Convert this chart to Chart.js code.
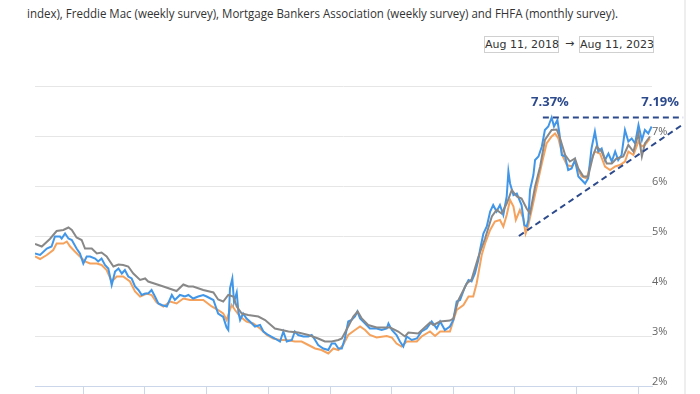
<!DOCTYPE html>
<html><head><meta charset="utf-8">
<script src="https://cdn.jsdelivr.net/npm/chart.js@4.4.0/dist/chart.umd.min.js"></script>
<style>
html,body{margin:0;padding:0;width:700px;height:394px;overflow:hidden;background:#fff;}
#note{position:absolute;left:27px;top:4px;font:13px "Open Sans",sans-serif;color:#333;white-space:nowrap;transform-origin:0 0;}
.box{position:absolute;top:36px;width:73px;height:15px;border:1px solid #d0d0d0;font:11px "DejaVu Sans",sans-serif;color:#333;line-height:15px;text-align:center;white-space:nowrap;}
#arrow{position:absolute;left:565px;top:36px;font:11px "DejaVu Sans",sans-serif;color:#333;line-height:15px;}
#wrap{position:absolute;left:0;top:0;width:700px;height:430px;}
#edge{position:absolute;left:684px;top:0;width:2px;height:394px;background:#eeeeee;}
</style></head>
<body>
<div id="note">index), Freddie Mac (weekly survey), Mortgage Bankers Association (weekly survey) and FHFA (monthly survey).</div>
<div class="box" style="left:484px">Aug 11, 2018</div>
<div id="arrow">→</div>
<div class="box" style="left:579px">Aug 11, 2023</div>
<div id="edge"></div>
<div id="wrap"><canvas id="c" width="700" height="430"></canvas></div>
<script>
const START = '2018-08-11', END = '2023-08-11';

const grayDates = ['2018-08-11','2018-08-31','2018-09-24','2018-10-14','2018-11-03','2018-11-18','2018-11-28','2018-12-12','2018-12-27','2019-01-06','2019-01-26','2019-02-10','2019-02-24','2019-03-11','2019-03-31','2019-04-15','2019-04-29','2019-05-14','2019-05-29','2019-06-18','2019-07-03','2019-07-12','2019-08-26','2019-10-04','2019-10-24','2019-11-08','2019-11-22','2019-12-22','2020-01-21','2020-02-04','2020-02-19','2020-03-05','2020-03-20','2020-03-30','2020-04-14','2020-05-03','2020-06-02','2020-06-22','2020-07-21','2020-08-10','2020-08-30','2020-09-28','2020-10-28','2020-11-26','2020-12-16','2021-01-05','2021-01-25','2021-02-04','2021-02-23','2021-03-10','2021-03-23','2021-04-04','2021-04-23','2021-05-18','2021-06-27','2021-07-21','2021-08-10','2021-08-20','2021-09-18','2021-10-23','2021-11-02','2021-11-22','2021-12-21','2021-12-31','2022-01-15','2022-02-09','2022-02-23','2022-03-15','2022-04-04','2022-04-24','2022-05-08','2022-05-23','2022-06-07','2022-06-22','2022-07-07','2022-07-21','2022-08-05','2022-08-15','2022-08-30','2022-09-14','2022-09-28','2022-10-18','2022-11-02','2022-11-12','2022-11-27','2022-12-11','2022-12-26','2023-01-05','2023-01-20','2023-02-03','2023-02-18','2023-02-28','2023-03-15','2023-03-30','2023-04-14','2023-04-28','2023-05-18','2023-06-02','2023-06-17','2023-07-02','2023-07-12','2023-07-21','2023-08-05'];
const grayVals = [4.84,4.79,4.94,5.10,5.12,5.17,5.12,4.97,4.92,4.75,4.75,4.65,4.67,4.59,4.39,4.43,4.42,4.39,4.25,4.12,4.15,4.09,3.99,3.90,4.03,3.99,3.99,3.92,3.87,3.73,3.69,3.82,3.79,3.59,3.45,3.42,3.39,3.32,3.15,3.12,3.09,3.07,3.02,2.95,2.89,2.89,2.92,2.95,3.19,3.39,3.49,3.35,3.22,3.17,3.17,3.09,2.99,3.07,3.05,3.27,3.22,3.29,3.31,3.35,3.72,4.05,4.13,4.58,4.95,5.39,5.52,5.45,5.65,5.92,5.79,5.75,5.55,5.45,5.99,6.39,6.92,7.12,7.13,6.95,6.62,6.49,6.55,6.35,6.19,6.19,6.62,6.79,6.69,6.45,6.45,6.55,6.59,6.82,6.69,7.05,6.59,6.85,6.99];

const blueDates = ['2018-08-11','2018-08-26','2018-09-15','2018-09-29','2018-10-09','2018-10-24','2018-10-29','2018-11-08','2018-11-18','2018-11-28','2018-12-12','2018-12-22','2019-01-01','2019-01-11','2019-01-21','2019-02-05','2019-02-14','2019-02-24','2019-03-06','2019-03-16','2019-03-26','2019-04-05','2019-04-15','2019-04-25','2019-05-04','2019-05-14','2019-05-24','2019-06-03','2019-06-13','2019-06-23','2019-07-03','2019-07-12','2019-07-22','2019-08-01','2019-08-11','2019-08-21','2019-09-05','2019-09-20','2019-09-29','2019-10-14','2019-10-29','2019-11-08','2019-11-22','2019-12-07','2019-12-22','2020-01-01','2020-01-21','2020-02-04','2020-02-19','2020-02-29','2020-03-05','2020-03-10','2020-03-17','2020-03-22','2020-03-30','2020-04-04','2020-04-09','2020-04-18','2020-04-28','2020-05-08','2020-05-23','2020-06-07','2020-06-17','2020-07-01','2020-07-21','2020-08-05','2020-08-15','2020-08-25','2020-09-09','2020-09-18','2020-09-28','2020-10-13','2020-10-28','2020-11-07','2020-11-17','2020-11-26','2020-12-11','2020-12-26','2021-01-05','2021-01-15','2021-01-25','2021-02-04','2021-02-13','2021-02-23','2021-03-05','2021-03-15','2021-03-22','2021-03-30','2021-04-14','2021-04-28','2021-05-18','2021-06-02','2021-06-17','2021-06-22','2021-07-02','2021-07-16','2021-07-26','2021-08-05','2021-08-15','2021-08-30','2021-09-14','2021-09-28','2021-10-13','2021-10-28','2021-11-12','2021-11-22','2021-12-06','2021-12-21','2021-12-31','2022-01-10','2022-01-20','2022-02-04','2022-02-14','2022-02-23','2022-03-05','2022-03-15','2022-03-20','2022-03-30','2022-04-09','2022-04-19','2022-04-28','2022-05-08','2022-05-18','2022-05-28','2022-06-07','2022-06-12','2022-06-17','2022-06-27','2022-07-07','2022-07-21','2022-07-29','2022-08-05','2022-08-10','2022-08-15','2022-08-25','2022-08-30','2022-09-09','2022-09-19','2022-09-28','2022-10-08','2022-10-18','2022-10-25','2022-11-04','2022-11-10','2022-11-17','2022-11-27','2022-12-06','2022-12-16','2022-12-26','2023-01-05','2023-01-15','2023-01-25','2023-02-03','2023-02-13','2023-02-23','2023-03-05','2023-03-15','2023-03-25','2023-04-04','2023-04-14','2023-04-24','2023-05-03','2023-05-13','2023-05-23','2023-06-02','2023-06-12','2023-06-22','2023-07-02','2023-07-12','2023-07-21','2023-07-31','2023-08-10'];
const blueVals = [4.65,4.62,4.75,4.79,4.99,4.99,4.95,5.05,4.95,4.92,4.75,4.65,4.45,4.59,4.59,4.55,4.49,4.55,4.42,4.35,4.02,4.29,4.35,4.25,4.32,4.19,4.15,3.99,3.92,3.82,3.85,3.85,3.92,3.79,3.65,3.62,3.59,3.82,3.72,3.82,3.79,3.82,3.75,3.79,3.82,3.79,3.72,3.45,3.38,3.17,3.12,3.95,4.15,3.68,3.87,3.48,3.32,3.45,3.35,3.29,3.19,3.22,3.09,3.02,2.95,2.89,3.09,2.89,2.92,3.09,3.02,2.99,2.99,3.02,2.92,2.82,2.75,2.72,2.85,2.85,2.75,2.75,2.95,3.29,3.32,3.39,3.49,3.35,3.25,3.15,3.15,3.12,3.15,3.25,3.12,3.02,2.89,2.79,2.99,2.92,2.95,3.09,3.15,3.29,3.15,3.29,3.12,3.19,3.32,3.69,3.72,3.99,4.12,4.09,4.25,4.52,4.72,5.05,5.19,5.49,5.62,5.49,5.62,5.42,5.79,6.29,6.05,5.82,5.85,5.62,5.22,5.19,5.32,5.92,6.22,6.52,6.59,6.79,7.12,7.19,7.37,7.19,7.32,7.05,6.62,6.59,6.32,6.35,6.52,6.19,6.12,6.05,6.15,6.75,7.09,6.69,6.75,6.52,6.65,6.49,6.69,6.52,6.62,7.12,6.89,6.95,6.85,7.22,6.92,7.12,7.05,7.19];

const orangeDates = ['2018-08-11','2018-08-26','2018-09-15','2018-10-04','2018-10-14','2018-11-03','2018-11-13','2018-11-23','2018-12-07','2018-12-22','2019-01-06','2019-01-21','2019-02-10','2019-02-24','2019-03-11','2019-03-26','2019-04-10','2019-04-29','2019-05-19','2019-06-03','2019-06-18','2019-07-08','2019-07-22','2019-08-06','2019-08-26','2019-09-15','2019-10-04','2019-10-24','2019-11-13','2019-12-03','2019-12-22','2020-01-16','2020-02-04','2020-02-19','2020-02-29','2020-03-15','2020-03-25','2020-04-09','2020-04-28','2020-05-18','2020-06-07','2020-06-27','2020-07-16','2020-08-05','2020-08-25','2020-09-18','2020-10-08','2020-10-28','2020-11-17','2020-12-06','2020-12-26','2021-01-10','2021-01-25','2021-02-08','2021-02-23','2021-03-15','2021-03-30','2021-04-14','2021-04-28','2021-05-18','2021-06-17','2021-07-02','2021-07-16','2021-07-31','2021-08-15','2021-09-14','2021-09-28','2021-10-23','2021-11-07','2021-11-22','2021-12-21','2022-01-10','2022-01-30','2022-02-14','2022-02-28','2022-03-10','2022-03-25','2022-04-04','2022-04-19','2022-05-03','2022-05-18','2022-05-28','2022-06-07','2022-06-17','2022-06-27','2022-07-04','2022-07-16','2022-07-26','2022-08-02','2022-08-10','2022-08-20','2022-09-04','2022-09-19','2022-10-03','2022-10-18','2022-10-28','2022-11-07','2022-11-20','2022-12-02','2022-12-16','2022-12-26','2023-01-05','2023-01-15','2023-01-30','2023-02-13','2023-02-23','2023-03-10','2023-03-25','2023-04-09','2023-04-24','2023-05-08','2023-05-23','2023-06-02','2023-06-17','2023-07-02','2023-07-12','2023-07-21','2023-08-05'];
const orangeVals = [4.59,4.54,4.62,4.72,4.85,4.85,4.89,4.79,4.69,4.59,4.49,4.45,4.45,4.42,4.32,4.09,4.19,4.19,4.09,3.89,3.79,3.85,3.82,3.67,3.59,3.69,3.65,3.75,3.72,3.72,3.72,3.59,3.52,3.45,3.32,3.62,3.52,3.39,3.29,3.25,3.15,3.02,2.95,2.92,2.92,2.89,2.89,2.82,2.75,2.72,2.65,2.75,2.72,2.82,3.02,3.12,3.19,3.12,3.02,2.97,3.00,2.97,2.85,2.79,2.89,2.89,2.99,3.09,3.00,3.09,3.09,3.52,3.62,3.79,3.79,4.05,4.62,4.85,5.12,5.29,5.32,5.19,5.42,5.72,5.59,5.32,5.52,5.35,5.05,5.22,5.52,5.99,6.45,6.85,6.99,7.05,6.95,6.59,6.42,6.39,6.49,6.32,6.19,6.15,6.52,6.69,6.65,6.39,6.32,6.39,6.42,6.49,6.69,6.62,6.89,6.79,6.82,6.95];

const xTickDates = ['2019-01-01','2019-07-01','2020-01-01','2020-07-01','2021-01-01','2021-07-01','2022-01-01','2022-07-01','2023-01-01','2023-07-01'];
const xTickLabels = ['Jan 2019','Jul 2019','Jan 2020','Jul 2020','Jan 2021','Jul 2021','Jan 2022','Jul 2022','Jan 2023','Jul 2023'];
const yTicks = [2,3,4,5,6,7,8];
const yLabels = ['2%','3%','4%','5%','6%','7%',''];

const peakLineDates = ['2022-09-22','2023-11-11'], peakLineVals = [7.37, 7.37];
const supportLineDates = ['2022-07-13','2023-11-08'], supportLineVals = [5.0, 7.22];
const calloutDates = ['2022-10-13','2023-09-04'], calloutTexts = ['7.37%','7.19%'], calloutLevel = 7.68;

// fit the note text width
const note = document.getElementById('note');
note.style.transform = 'scaleX(' + (591 / note.offsetWidth) + ')';

const pts = (d, v) => d.map((s, i) => ({x: Date.parse(s), y: v[i]}));

const annot = {
  id: 'annot',
  afterDatasetsDraw(c) {
    const {ctx, scales: {x, y}} = c;
    ctx.save();
    ctx.strokeStyle = '#2c4a8c';
    ctx.lineWidth = 2;
    ctx.setLineDash([6, 4]);
    [[peakLineDates, peakLineVals], [supportLineDates, supportLineVals]].forEach(([d, v]) => {
      ctx.beginPath();
      ctx.moveTo(x.getPixelForValue(Date.parse(d[0])), y.getPixelForValue(v[0]));
      ctx.lineTo(x.getPixelForValue(Date.parse(d[1])), y.getPixelForValue(v[1]));
      ctx.stroke();
    });
    ctx.setLineDash([]);
    ctx.fillStyle = '#2c4a8c';
    ctx.font = 'bold 13px "Open Sans", sans-serif';
    ctx.textAlign = 'center';
    ctx.textBaseline = 'middle';
    calloutDates.forEach((d, i) => {
      ctx.fillText(calloutTexts[i], x.getPixelForValue(Date.parse(d)), y.getPixelForValue(calloutLevel));
    });
    ctx.restore();
  }
};

new Chart(document.getElementById('c'), {
  type: 'line',
  data: {
    datasets: [
      {label: 'Freddie Mac', data: pts(grayDates, grayVals), borderColor: '#888888', borderWidth: 2},
      {label: 'Mortgage News Daily', data: pts(blueDates, blueVals), borderColor: '#4196e8', borderWidth: 2},
      {label: 'MBA', data: pts(orangeDates, orangeVals), borderColor: '#f5a25d', borderWidth: 2}
    ]
  },
  options: {
    responsive: false,
    animation: false,
    parsing: true,
    elements: {point: {radius: 0}, line: {tension: 0}},
    layout: {padding: {top: 86, left: 35, right: 28, bottom: 14}},
    plugins: {legend: {display: false}, tooltip: {enabled: false}},
    scales: {
      x: {
        type: 'linear',
        min: Date.parse(START), max: Date.parse(END),
        afterBuildTicks: s => { s.ticks = xTickDates.map(d => ({value: Date.parse(d)})); },
        ticks: {callback: (v, i) => xTickLabels[i], color: '#666', font: {size: 11}, maxRotation: 0, autoSkip: false},
        grid: {drawOnChartArea: false, drawTicks: true, tickLength: 10, color: '#ccd6eb'},
        border: {color: '#ccd6eb'},
        afterFit: s => { s.height = 30; }
      },
      y: {
        position: 'right',
        min: 2, max: 8,
        afterBuildTicks: s => { s.ticks = yTicks.map(v => ({value: v})); },
        ticks: {callback: (v, i) => yLabels[i], color: '#666', font: {size: 11, family: '"Open Sans", sans-serif'}, padding: 0, labelOffset: -4},
        grid: {color: '#e6e6e6', drawTicks: false},
        border: {display: false},
        afterFit: s => { s.width = 20; }
      }
    }
  },
  plugins: [annot]
});
</script>
</body></html>
